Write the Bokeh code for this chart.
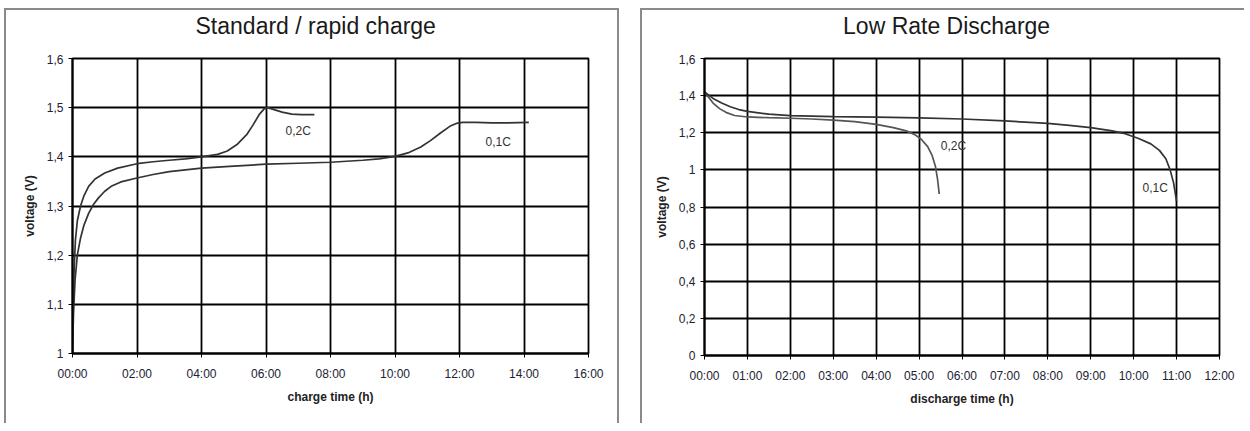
from bokeh.plotting import figure
from bokeh.layouts import row, column
from bokeh.models import FixedTicker, Label, Spacer, Range1d
from bokeh.embed import file_html
from bokeh.resources import INLINE

FONT = "Liberation Sans"

# ---- Standard / rapid charge ----
charge_hour_ticks = [0, 2, 4, 6, 8, 10, 12, 14, 16]
charge_hour_labels = ["00:00", "02:00", "04:00", "06:00", "08:00", "10:00", "12:00", "14:00", "16:00"]
charge_volt_ticks = [1.0, 1.1, 1.2, 1.3, 1.4, 1.5, 1.6]
charge_volt_labels = ["1", "1,1", "1,2", "1,3", "1,4", "1,5", "1,6"]

c02_t = [0, 0.02, 0.05, 0.09, 0.15, 0.25, 0.35, 0.5, 0.7, 1.0, 1.4, 2.0, 2.5, 3.0, 3.5, 4.0,
         4.5, 4.8, 5.1, 5.4, 5.6, 5.8, 5.95, 6.05, 6.2, 6.5, 6.8, 7.1, 7.5]
c02_v = [1.0, 1.1, 1.17, 1.23, 1.27, 1.30, 1.32, 1.34, 1.355, 1.367, 1.377, 1.386, 1.39, 1.393, 1.396, 1.40,
         1.405, 1.412, 1.425, 1.445, 1.465, 1.487, 1.498, 1.5, 1.497, 1.491, 1.487, 1.486, 1.486]

c01_t = [0, 0.03, 0.08, 0.15, 0.25, 0.35, 0.5, 0.65, 0.8, 1.0, 1.2, 1.5, 2.0, 2.5, 3.0, 4.0, 5.0, 6.0,
         7.0, 8.0, 9.0, 9.5, 10.0, 10.4, 10.8, 11.1, 11.4, 11.7, 11.9, 12.1, 12.5, 13.0, 13.5, 14.15]
c01_v = [1.0, 1.08, 1.15, 1.2, 1.235, 1.26, 1.285, 1.303, 1.316, 1.33, 1.34, 1.349, 1.357, 1.364, 1.37, 1.377, 1.381,
         1.385, 1.387, 1.389, 1.393, 1.396, 1.401, 1.408, 1.42, 1.433, 1.448, 1.462, 1.468, 1.47, 1.47, 1.469, 1.469, 1.47]

# ---- Low Rate Discharge ----
dis_hour_ticks = list(range(0, 13))
dis_hour_labels = ["00:00", "01:00", "02:00", "03:00", "04:00", "05:00", "06:00",
                   "07:00", "08:00", "09:00", "10:00", "11:00", "12:00"]
dis_volt_ticks = [0, 0.2, 0.4, 0.6, 0.8, 1.0, 1.2, 1.4, 1.6]
dis_volt_labels = ["0", "0,2", "0,4", "0,6", "0,8", "1", "1,2", "1,4", "1,6"]

d01_t = [0, 0.2, 0.4, 0.6, 0.8, 1.0, 1.5, 2.0, 3.0, 4.0, 5.0, 6.0, 7.0, 8.0, 8.5, 9.0, 9.5, 9.8,
         10.1, 10.4, 10.6, 10.75, 10.85, 10.93, 11.0]
d01_v = [1.42, 1.385, 1.36, 1.34, 1.325, 1.315, 1.3, 1.292, 1.287, 1.284, 1.28, 1.274, 1.264, 1.25, 1.24, 1.228, 1.21,
         1.195, 1.17, 1.14, 1.105, 1.06, 1.0, 0.93, 0.83]

d02_t = [0, 0.1, 0.2, 0.35, 0.5, 0.7, 1.0, 1.5, 2.0, 2.5, 3.0, 3.5, 4.0, 4.4, 4.7, 4.9, 5.05, 5.2,
         5.3, 5.38, 5.43, 5.47]
d02_v = [1.42, 1.39, 1.36, 1.33, 1.31, 1.293, 1.285, 1.281, 1.278, 1.274, 1.268, 1.26, 1.245, 1.228, 1.21, 1.19,
         1.165, 1.125, 1.08, 1.02, 0.95, 0.87]

TITLE_H = 44


def make_title(text, width, cx, cy):
    """A small text-only strip holding the panel title (pixel-unit ranges)."""
    t = figure(width=width, height=TITLE_H, x_range=Range1d(0, width), y_range=Range1d(0, TITLE_H),
               min_border=0, min_border_left=0, min_border_right=0, min_border_top=0,
               min_border_bottom=0, x_axis_location=None, y_axis_location=None,
               output_backend="svg", toolbar_location=None)
    t.grid.visible = False
    t.outline_line_color = None
    t.add_layout(Label(x=cx, y=cy, text=text, text_font=FONT, text_font_size="23px",
                       text_color="#1a1a1a", text_align="center", text_baseline="alphabetic"))
    return t


def make_fig(fw, fh, left, right, bottom, xr, yr, xt, xl, yt, yl, xlabel):
    p = figure(frame_width=fw, frame_height=fh, min_border_left=left, min_border_right=right,
               min_border_top=48 - TITLE_H, min_border_bottom=bottom,
               x_range=Range1d(*xr), y_range=Range1d(*yr),
               output_backend="svg", toolbar_location=None)
    p.xaxis.ticker = FixedTicker(ticks=xt)
    p.xaxis.major_label_overrides = {t: l for t, l in zip(xt, xl)}
    p.yaxis.ticker = FixedTicker(ticks=yt)
    p.yaxis.major_label_overrides = {t: l for t, l in zip(yt, yl)}
    p.xaxis.axis_label = xlabel
    p.yaxis.axis_label = "voltage (V)"
    for ax in (p.xaxis, p.yaxis):
        ax.axis_line_color = "black"
        ax.axis_line_width = 2
        ax.major_tick_line_color = "black"
        ax.major_tick_line_width = 1
        ax.major_tick_out = 4
        ax.major_tick_in = 0
        ax.minor_tick_line_color = None
        ax.major_label_text_font = FONT
        ax.major_label_text_font_size = "12px"
        ax.major_label_text_color = "#222233"
        ax.axis_label_text_font = FONT
        ax.axis_label_text_font_size = "12px"
        ax.axis_label_text_font_style = "bold"
        ax.axis_label_text_color = "#222222"
    p.xaxis.major_label_standoff = 9
    p.xaxis.axis_label_standoff = 6
    p.yaxis.major_label_standoff = 5
    p.yaxis.axis_label_standoff = 7
    for g in (p.xgrid, p.ygrid):
        g.grid_line_color = "black"
        g.grid_line_width = 1.8
    p.outline_line_color = "black"
    p.outline_line_width = 1.8
    return p


B1 = {"border-top": "2px solid #8a8a8a", "border-left": "2px solid #8a8a8a",
      "border-right": "2px solid #8a8a8a"}
B2 = {"border-top": "2px solid #8a8a8a", "border-left": "2px solid #8a8a8a"}

p1 = make_fig(516, 295, 66, 29, 70, (0, 16), (1.0, 1.6),
              charge_hour_ticks, charge_hour_labels, charge_volt_ticks, charge_volt_labels,
              "charge time (h)")
p1.line(c02_t, c02_v, line_color="#333333", line_width=1.7)
p1.line(c01_t, c01_v, line_color="#333333", line_width=1.7)
p1.add_layout(Label(x=7.0, y=1.452, text="0,2C", text_font=FONT, text_font_size="12px",
                    text_color="#333333", text_align="center", text_baseline="middle"))
p1.add_layout(Label(x=13.2, y=1.43, text="0,1C", text_font=FONT, text_font_size="12px",
                    text_color="#333333", text_align="center", text_baseline="middle"))
t1 = make_title("Standard / rapid charge", 66 + 516 + 29, 288, 29)

p2 = make_fig(515, 297, 62, 25, 68, (0, 12), (0, 1.6),
              dis_hour_ticks, dis_hour_labels, dis_volt_ticks, dis_volt_labels,
              "discharge time (h)")
p2.line(d02_t, d02_v, line_color="#555555", line_width=1.7)
p2.line(d01_t, d01_v, line_color="#333333", line_width=1.7)
p2.add_layout(Label(x=5.8, y=1.13, text="0,2C", text_font=FONT, text_font_size="12px",
                    text_color="#333333", text_align="center", text_baseline="middle"))
p2.add_layout(Label(x=10.5, y=0.905, text="0,1C", text_font=FONT, text_font_size="12px",
                    text_color="#333333", text_align="center", text_baseline="middle"))
t2 = make_title("Low Rate Discharge", 62 + 515 + 25, 283, 29)

panel1 = column(t1, p1)
panel1.styles = B1
panel2 = column(t2, p2)
panel2.styles = B2

layout = column(Spacer(width=10, height=8),
                row(Spacer(width=4, height=10), panel1, Spacer(width=21, height=10), panel2))
open("out.html", "w").write(file_html(layout, INLINE))
